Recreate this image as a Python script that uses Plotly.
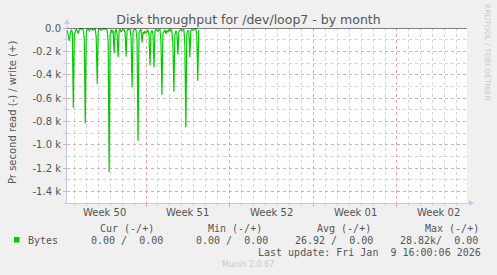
import plotly.graph_objects as go
import pandas as pd

# ---- data ----
title = "Disk throughput for /dev/loop7 - by month"
series_name = "Bytes"
data_start = "2025-12-07 10:00"
step = "2h"
read_bytes = [
    -20, -70, -110, -45, -15, -35, -684, -60, -20, -10, -25, -48,
    -15, -5, -10, -5, -20, -90, -818, -40, -10, -5, -25, -15,
    -5, -10, -20, -10, -5, -80, -478, -30, -5, -10, -20, -15,
    -5, -10, -5, -10, -15, -120, -1237, -60, -15, -40, -20, -217,
    -30, -10, -60, -250, -25, -10, -35, -20, -10, -15, -40, -244,
    -20, -10, -15, -10, -90, -510, -30, -15, -10, -20, -100, -966,
    -40, -20, -10, -124, -35, -50, -25, -45, -30, -15, -60, -320,
    -40, -20, -50, -337, -25, -10, -20, -30, -15, -10, -110, -571,
    -45, -30, -15, -50, -20, -35, -15, -25, -10, -30, -130, -546,
    -60, -25, -40, -229, -30, -20, -10, -25, -15, -10, -140, -851,
    -50, -20, -30, -251, -25, -10, -20, -15, -10, -5, -60, -452,
    -15,
]
x_range = ["2025-12-07 09:20", "2026-01-09 20:40"]
week_starts = ["2025-12-07", "2025-12-14", "2025-12-21", "2025-12-28", "2026-01-04"]
week_labels = ["Week 50", "Week 51", "Week 52", "Week 01", "Week 02"]
y_ticks = [0, -200, -400, -600, -800, -1000, -1200, -1400]
y_ticktext = ["0.0", "-0.2 k", "-0.4 k", "-0.6 k", "-0.8 k", "-1.0 k", "-1.2 k", "-1.4 k"]
y_range = [-1500, 0]
legend_headers = ["Cur (-/+)", "Min (-/+)", "Avg (-/+)", "Max (-/+)"]
legend_values = ["0.00 /  0.00", "0.00 /  0.00", "26.92 /  0.00", "28.82k/  0.00"]
last_update = "Last update: Fri Jan  9 16:00:06 2026"
footer = "Munin 2.0.67"
side_text = "RRDTOOL / TOBI OETIKER"
y_title = "Pr second read (-) / write (+)"

# ---- layout geometry (pixels) ----
W, H = 497, 275
L, R, T, B = 67, 467, 28, 203
PW, PH = R - L, B - T

def px(x):
    return (x - L) / PW

def py(y):
    return (B - y) / PH

times = pd.date_range(data_start, periods=len(read_bytes), freq=step)

GREEN = "#00cc00"
TXT = "#555555"
RED_GRID = "#e8a8a8"
GREY_GRID = "#d4d4d4"
AXIS = "#c8c8ee"
MONO = "DejaVu Sans Mono"
SANS = "DejaVu Sans"

fig = go.Figure()
fig.add_trace(go.Scatter(
    x=times, y=read_bytes, mode="lines",
    line=dict(color=GREEN, width=1.2),
    name=series_name, showlegend=False, hoverinfo="skip",
))

fig.update_layout(
    width=W, height=H,
    margin=dict(l=L, r=W - R, t=T, b=H - B),
    paper_bgcolor="#f0f0f0",
    plot_bgcolor="#ffffff",
    showlegend=False,
    font=dict(family=SANS, size=10, color=TXT),
    title=dict(text=title, x=0.5, xanchor="center", y=1 - 20 / H, yanchor="middle",
               font=dict(family=SANS, size=12.5, color=TXT)),
)

fig.update_xaxes(
    type="date", range=x_range,
    tickvals=week_starts, ticktext=[""] * len(week_starts),
    showgrid=True, gridcolor=RED_GRID, griddash="dot", gridwidth=1,
    ticks="outside", ticklen=3, tickcolor=RED_GRID,
    minor=dict(dtick=86400000, tick0="2025-12-07", showgrid=True,
               gridcolor=GREY_GRID, griddash="dot", ticks="outside",
               ticklen=2, tickcolor=GREY_GRID),
    showline=True, linecolor=AXIS, linewidth=1,
    zeroline=False, fixedrange=True,
)
fig.update_yaxes(
    range=y_range, tickvals=y_ticks, ticktext=y_ticktext,
    showgrid=True, gridcolor=RED_GRID, griddash="dot", gridwidth=1,
    ticks="outside", ticklen=3, tickcolor=RED_GRID,
    minor=dict(dtick=100, tick0=0, showgrid=True, gridcolor=GREY_GRID,
               griddash="dot", ticks="outside", ticklen=3, tickcolor=GREY_GRID),
    showline=True, linecolor=AXIS, linewidth=1,
    zeroline=False, fixedrange=True,
    tickfont=dict(family=SANS, size=10, color=TXT),
)

# zero line (black) at top
fig.add_shape(type="line", xref="paper", x0=0, x1=1, yref="y", y0=0, y1=0,
              line=dict(color="#000000", width=1.2), layer="above")
# axis arrows
fig.add_shape(type="line", xref="paper", yref="paper", x0=0, x1=0, y0=1, y1=py(21),
              line=dict(color=AXIS, width=1))
fig.add_shape(type="path", xref="paper", yref="paper",
              path=f"M {px(64)} {py(24)} L {px(70)} {py(24)} L {px(67)} {py(19)} Z",
              fillcolor=AXIS, line=dict(color=AXIS, width=0))
fig.add_shape(type="line", xref="paper", yref="paper", x0=1, x1=px(472), y0=0, y1=0,
              line=dict(color=AXIS, width=1))
fig.add_shape(type="path", xref="paper", yref="paper",
              path=f"M {px(469)} {py(200)} L {px(469)} {py(206)} L {px(474)} {py(203)} Z",
              fillcolor=AXIS, line=dict(color=AXIS, width=0))

ann = []
# week labels centred mid-week
for ws, lab in zip(week_starts, week_labels):
    mid = pd.Timestamp(ws) + pd.Timedelta(hours=84)
    ann.append(dict(x=mid, xref="x", y=py(212), yref="paper", text=lab,
                    showarrow=False, xanchor="center", yanchor="middle",
                    font=dict(family=SANS, size=10, color=TXT)))
# y axis title
ann.append(dict(x=px(12), y=py(112), xref="paper", yref="paper", text=y_title,
                textangle=-90, showarrow=False, xanchor="center", yanchor="middle",
                font=dict(family=SANS, size=10, color=TXT)))
# right side credit
ann.append(dict(x=px(488), y=py(52), xref="paper", yref="paper", text=side_text,
                textangle=90, showarrow=False, xanchor="center", yanchor="middle",
                font=dict(family=SANS, size=7.5, color="#c8c8c8")))

nb = lambda s: s.replace(" ", "\u00a0")
header_x = [98, 206, 315, 423]
value_x = [89, 194, 293, 398]
for hx, h in zip(header_x, legend_headers):
    ann.append(dict(x=px(hx), y=py(228), xref="paper", yref="paper", text=nb(h),
                    showarrow=False, xanchor="left", yanchor="middle",
                    font=dict(family=MONO, size=10, color=TXT)))
for vx, v in zip(value_x, legend_values):
    ann.append(dict(x=px(vx), y=py(240), xref="paper", yref="paper", text=nb(v),
                    showarrow=False, xanchor="left", yanchor="middle",
                    font=dict(family=MONO, size=10, color=TXT)))
ann.append(dict(x=px(26), y=py(240), xref="paper", yref="paper", text=series_name,
                showarrow=False, xanchor="left", yanchor="middle",
                font=dict(family=MONO, size=10, color=TXT)))
ann.append(dict(x=px(483), y=py(252), xref="paper", yref="paper", text=nb(last_update),
                showarrow=False, xanchor="right", yanchor="middle",
                font=dict(family=MONO, size=10, color=TXT)))
ann.append(dict(x=px(248), y=py(264), xref="paper", yref="paper", text=footer,
                showarrow=False, xanchor="center", yanchor="middle",
                font=dict(family=SANS, size=8, color="#c8c8c8")))
fig.update_layout(annotations=ann)

# legend colour square
fig.add_shape(type="rect", xref="paper", yref="paper",
              x0=px(14), x1=px(19.5), y0=py(242.5), y1=py(237),
              fillcolor=GREEN, line=dict(width=0))

fig.write_html("out.html", config={"displayModeBar": False})
